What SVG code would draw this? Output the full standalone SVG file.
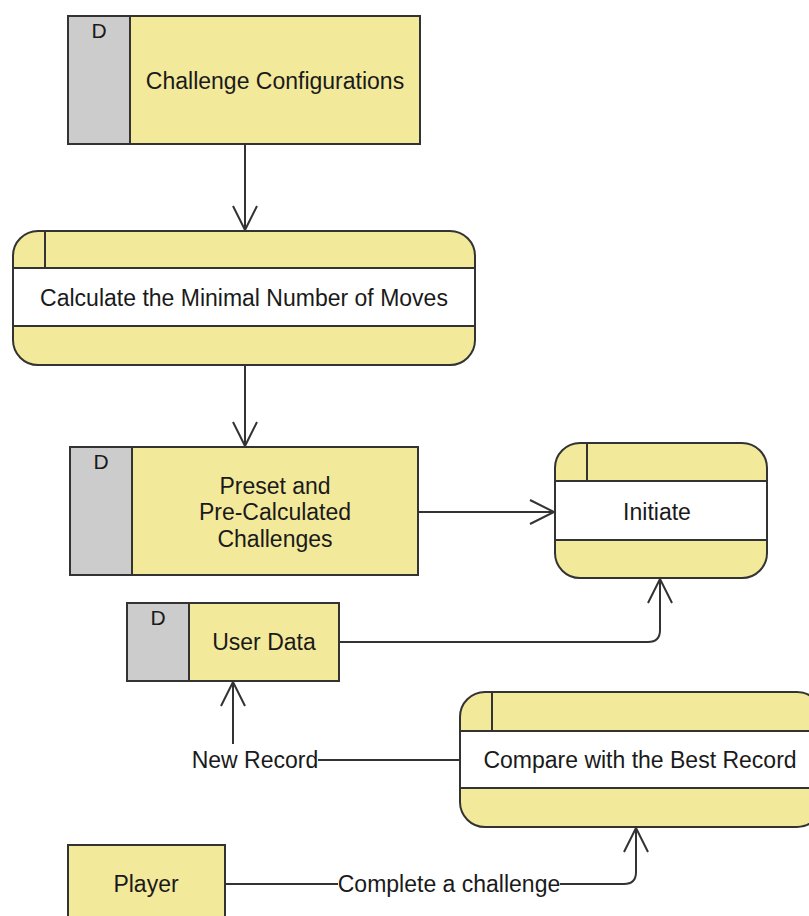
<svg xmlns="http://www.w3.org/2000/svg" width="809" height="916" viewBox="0 0 809 916">
<style>
.y{fill:#f3e99b;stroke:#333;stroke-width:2}
.g{fill:#cccccc;stroke:#333;stroke-width:2}
.w{fill:#ffffff;stroke:#333;stroke-width:2}
.l{fill:none;stroke:#333;stroke-width:2}
.c{fill:none;stroke:#333;stroke-width:2}
text{font-family:"Liberation Sans",Arial,sans-serif;font-size:23px;fill:#1a1a1a;text-anchor:middle;dominant-baseline:central}
text.d{font-size:21px}
</style>
<defs>
<marker id="a" markerUnits="userSpaceOnUse" markerWidth="30" markerHeight="30" viewBox="-26 -14 30 28" refX="0" refY="0" orient="auto">
<path d="M-24,-12 L0,0 L-24,12" fill="none" stroke="#333" stroke-width="2"/>
</marker>
</defs>
<rect width="809" height="916" fill="#fff"/>
<g id="challenge-configurations">
<rect class="y" x="68" y="16" width="352" height="128"/>
<rect class="g" x="68" y="16" width="62" height="128"/>
<text class="d" x="99" y="30">D</text>
<text x="275" y="81">Challenge Configurations</text>
</g>
<g id="calculate-moves">
<rect class="y" x="13" y="231" width="462" height="134" rx="25"/>
<rect class="w" x="13" y="268" width="462" height="58"/>
<line class="l" x1="45" y1="231" x2="45" y2="268"/>
<text x="244" y="298">Calculate the Minimal Number of Moves</text>
</g>
<g id="preset-challenges">
<rect class="y" x="70" y="447" width="348" height="128"/>
<rect class="g" x="70" y="447" width="62" height="128"/>
<text class="d" x="101" y="461">D</text>
<text x="275" y="486">Preset and</text>
<text x="275" y="512">Pre-Calculated</text>
<text x="275" y="539">Challenges</text>
</g>
<g id="initiate">
<rect class="y" x="555" y="443" width="212" height="135" rx="25"/>
<rect class="w" x="555" y="481" width="212" height="59"/>
<line class="l" x1="587" y1="443" x2="587" y2="481"/>
<text x="657" y="512">Initiate</text>
</g>
<g id="user-data">
<rect class="y" x="127" y="603" width="212" height="78"/>
<rect class="g" x="127" y="603" width="62" height="78"/>
<text class="d" x="158" y="617">D</text>
<text x="264" y="642">User Data</text>
</g>
<g id="compare-record">
<rect class="y" x="460" y="692" width="362" height="135" rx="25"/>
<rect class="w" x="460" y="731" width="362" height="57"/>
<line class="l" x1="492" y1="692" x2="492" y2="731"/>
<text x="640" y="760">Compare with the Best Record</text>
</g>
<g id="player">
<rect class="y" x="68" y="845" width="157" height="80"/>
<text x="146" y="884">Player</text>
</g>
<g id="connectors">
<path class="c" d="M245,144 L245,230" marker-end="url(#a)"/>
<path class="c" d="M245,365 L245,446" marker-end="url(#a)"/>
<path class="c" d="M418,512 L554,512" marker-end="url(#a)"/>
<path class="c" d="M339,642 L648,642 Q660,642 660,630 L660,579" marker-end="url(#a)"/>
<path class="c" d="M460,760 L233,760 L233,682" marker-end="url(#a)"/>
<rect x="192" y="744" width="126" height="32" fill="#fff"/>
<text x="255" y="760">New Record</text>
<path class="c" d="M225,884 L624,884 Q636,884 636,872 L636,828" marker-end="url(#a)"/>
<rect x="338" y="870" width="222" height="28" fill="#fff"/>
<text x="449" y="884">Complete a challenge</text>
</g>
</svg>
